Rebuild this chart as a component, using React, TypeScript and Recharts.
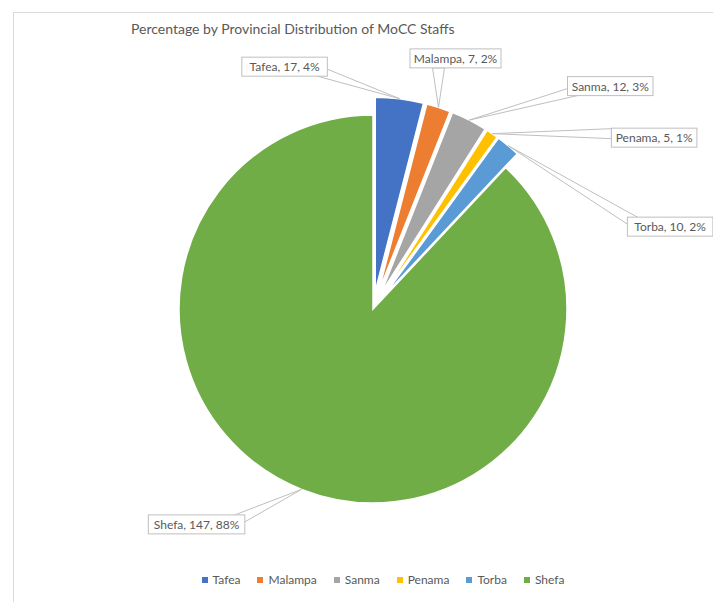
import React from 'react';
import { PieChart, Pie, Cell, Sector, Legend } from 'recharts';

const provinces = ['Tafea', 'Malampa', 'Sanma', 'Penama', 'Torba', 'Shefa'];
const staffCounts = [17, 7, 12, 5, 10, 147];
const sharePercent = [4, 2, 3, 1, 2, 88];

const COLORS = ['#4472C4', '#ED7D31', '#A5A5A5', '#FFC000', '#5B9BD5', '#70AD47'];
// how far each slice is pulled out, and where its callout box sits relative to the slice tip
const EXPLODE = [18, 18, 18, 18, 18, 0];
const CALLOUT_SHIFT = [
  [-115, -32],
  [17, -49],
  [141, -34],
  [162, 4],
  [162, 81],
  [-105, 35],
];

const rows = provinces.map((name, i) => ({ name, staff: staffCounts[i], share: sharePercent[i] }));

const TEXT = '#595959';
const LINE = '#bfbfbf';
const FONT = 'Lato, "Open Sans", sans-serif';
const RAD = Math.PI / 180;

const polar = (cx: number, cy: number, r: number, angle: number) => ({
  x: cx + r * Math.cos(-angle * RAD),
  y: cy + r * Math.sin(-angle * RAD),
});

const clamp = (v: number, lo: number, hi: number) => Math.max(lo, Math.min(hi, v));

const SliceWithCallout = (props: any) => {
  const { cx, cy, outerRadius, startAngle, endAngle, midAngle, index } = props;
  const e = EXPLODE[index];
  const c = polar(cx, cy, e, midAngle);
  const tip = polar(cx, cy, outerRadius + e, midAngle);

  const text = `${provinces[index]}, ${staffCounts[index]}, ${sharePercent[index]}%`;
  const bw = text.length * 5.5 + 14;
  const bh = 19;
  const bx = tip.x + CALLOUT_SHIFT[index][0] - bw / 2;
  const by = tip.y + CALLOUT_SHIFT[index][1] - bh / 2;

  const px = clamp(tip.x, bx, bx + bw);
  const py = clamp(tip.y, by, by + bh);
  const outX = tip.x < bx ? -1 : tip.x > bx + bw ? 1 : 0;
  const outY = tip.y < by ? -1 : tip.y > by + bh ? 1 : 0;
  let p1, p2;
  if (outX === 0) {
    p1 = { x: clamp(px - 6, bx, bx + bw), y: py };
    p2 = { x: clamp(px + 6, bx, bx + bw), y: py };
  } else if (outY === 0) {
    p1 = { x: px, y: clamp(py - 5, by, by + bh) };
    p2 = { x: px, y: clamp(py + 5, by, by + bh) };
  } else {
    p1 = { x: px - outX * 10, y: py };
    p2 = { x: px, y: py - outY * 7 };
  }

  return (
    <g>
      <Sector
        cx={c.x}
        cy={c.y}
        innerRadius={0}
        outerRadius={outerRadius}
        startAngle={startAngle}
        endAngle={endAngle}
        fill={COLORS[index]}
        stroke="#fff"
        strokeWidth={1.5}
      />
      <polygon
        points={`${tip.x},${tip.y} ${p1.x},${p1.y} ${p2.x},${p2.y}`}
        fill="#fff"
        stroke={LINE}
        strokeWidth={1}
      />
      <rect x={bx} y={by} width={bw} height={bh} fill="#fff" stroke={LINE} strokeWidth={1} />
      <text
        x={bx + bw / 2}
        y={by + bh / 2}
        textAnchor="middle"
        dominantBaseline="central"
        fontSize={12}
        fill={TEXT}
        fontFamily={FONT}
      >
        {text}
      </text>
    </g>
  );
};

const LegendRow = (props: any) => {
  const payload = [...(props.payload || [])].sort(
    (a: any, b: any) => provinces.indexOf(a.value) - provinces.indexOf(b.value)
  );
  return (
    <div
      style={{
        display: 'flex',
        justifyContent: 'center',
        gap: 17,
        fontSize: 12,
        color: TEXT,
        fontFamily: FONT,
      }}
    >
      {payload.map((p: any) => (
        <span key={p.value} style={{ display: 'flex', alignItems: 'center' }}>
          <span style={{ width: 6, height: 6, background: p.color, marginRight: 5 }} />
          {p.value}
        </span>
      ))}
    </div>
  );
};

export default function App() {
  return (
    <div style={{ position: 'absolute', left: 0, top: 0, width: 713, height: 602, background: '#fff', fontFamily: FONT }}>
      <PieChart width={713} height={602} margin={{ top: 0, right: 0, bottom: 0, left: 0 }}>
        <rect x={13.5} y={12.5} width={720} height={600} fill="none" stroke="#d9d9d9" />
        <text x={131} y={34} fontSize={14} fill={TEXT} fontFamily={FONT}>
          Percentage by Provincial Distribution of MoCC Staffs
        </text>
        <Pie
          data={rows}
          dataKey="share"
          nameKey="name"
          cx={373}
          cy={309}
          outerRadius={194}
          startAngle={90}
          endAngle={-270}
          stroke="none"
          label={SliceWithCallout}
          labelLine={false}
          isAnimationActive={false}
        >
          {rows.map((r, i) => (
            <Cell key={r.name} fill={COLORS[i]} fillOpacity={0} stroke="none" />
          ))}
        </Pie>
        <Legend content={LegendRow} wrapperStyle={{ left: 60, width: 646, bottom: 15 }} />
      </PieChart>
    </div>
  );
}
